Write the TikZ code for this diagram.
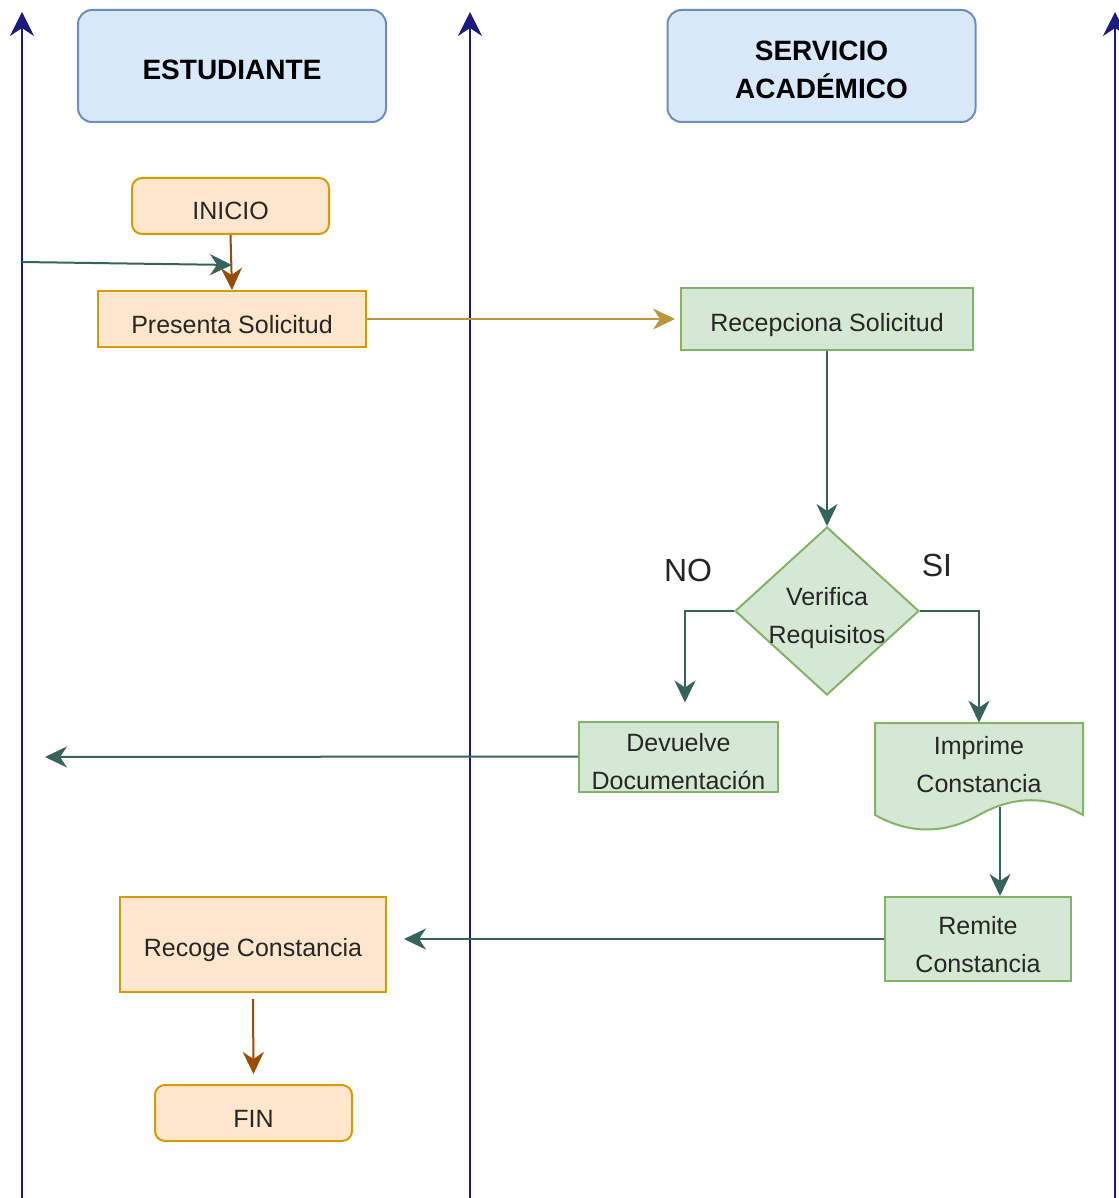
\documentclass[tikz,border=0pt]{standalone}
\usepackage{fontspec}
\setmainfont{Liberation Sans}
\usetikzlibrary{shapes.geometric,arrows.meta,calc}
\usepackage{xcolor}
\definecolor{lanenavy}{HTML}{1A1A80}
\definecolor{headfill}{HTML}{DAE8FC}
\definecolor{headdraw}{HTML}{6C8EBF}
\definecolor{stufill}{HTML}{FFE6CC}
\definecolor{studraw}{HTML}{D79B00}
\definecolor{srvfill}{HTML}{D5E8D4}
\definecolor{srvdraw}{HTML}{82B366}
\definecolor{flowteal}{HTML}{36635A}
\definecolor{flowbrown}{HTML}{994C00}
\definecolor{flowgold}{HTML}{B8973D}
\definecolor{textgray}{HTML}{262626}

% extra height on a first line, to sit text lower in its box
\newcommand{\linestrut}[1][15pt]{\rule{0pt}{#1}}

\tikzset{
  lane/.style={lanenavy, line width=1.1pt, -{Stealth[length=12pt,width=12pt,inset=4pt]}},
  lowered/.style={execute at begin node=\rule{0pt}{15pt},
    execute at end node=\rule[-1pt]{0pt}{1pt}},
  header/.style={lowered, rounded corners=7pt, fill=headfill, draw=headdraw, line width=1pt,
    minimum width=154pt, minimum height=56pt, align=center,
    font=\fontsize{14}{19}\selectfont\bfseries},
  stubox/.style={lowered, fill=stufill, draw=studraw, line width=1pt, align=center,
    font=\fontsize{12.5}{19}\selectfont, text=textgray},
  terminal/.style={stubox, rounded corners=5pt, minimum width=98.5pt, minimum height=28pt},
  srvbox/.style={lowered, fill=srvfill, draw=srvdraw, line width=1pt, align=center,
    font=\fontsize{12.5}{19}\selectfont, text=textgray},
  answer/.style={font=\fontsize{16}{19}\selectfont, text=textgray},
  flow/.style={flowteal, line width=1pt, -{Stealth[length=11pt,width=10.5pt,inset=3.5pt]}},
  flowstu/.style={flow, flowbrown},
  flowgoal/.style={flow, flowgold}
}

\begin{document}
\begin{tikzpicture}[x=0.5pt, y=-0.5pt]

  % Page frame
  \useasboundingbox (0,0) rectangle (1118,1198);
  \fill[white] (0,0) rectangle (1118,1198);

  % Lane lines
  \foreach \x/\name in {22/a, 470/b, 1115/c} {
    \coordinate (lane\name bot) at (\x,1198);
    \coordinate (lane\name top) at (\x,12);
    \draw[lane] (lane\name bot) -- (lane\name top);
  }

  % Lane headers
  \node[header] (est) at (232,66) {ESTUDIANTE};
  \node[header] (srv) at (821.5,66) {\linestrut[14.5pt]SERVICIO\\ACADÉMICO};

  % Student lane
  \node[terminal] (inicio) at (230.5,206) {INICIO};
  \node[stubox, minimum width=134pt, minimum height=28pt] (presenta) at (232,319) {Presenta Solicitud};
  \node[stubox, minimum width=133pt, minimum height=47.5pt] (recoge) at (253,944.5) {Recoge Constancia};
  \node[terminal] (fin) at (253.5,1113) {FIN};

  % Service lane
  \node[srvbox, minimum width=146pt, minimum height=31pt] (recep) at (827,319) {Recepciona Solicitud};
  \node[srvbox, diamond, aspect=1.1, inner sep=-2pt, minimum width=92pt, minimum height=84pt] (verif) at (827,611) {\linestrut[16pt]Verifica\\Requisitos};
  \node[srvbox, inner ysep=0pt, minimum width=99.5pt, minimum height=33.5pt] (devuelve) at (678.5,756.5) {\linestrut Devuelve\\Documentación};

  % Printed document
  \filldraw[fill=srvfill, draw=srvdraw, line width=1pt]
    (875,723) -- (1083,723) -- (1083,815)
    .. controls (1048.3,795.3) and (1013.7,795.3) .. (979,815)
    .. controls (944.3,834.3) and (909.7,834.3) .. (875,815) -- cycle;
  \node[align=center, font=\fontsize{12.5}{19}\selectfont, text=textgray,
    minimum width=104pt, minimum height=42pt] (imprime) at (979,765) {Imprime\\Constancia};

  \node[srvbox, minimum width=93pt, minimum height=42pt] (remite) at (978,939) {\linestrut Remite\\Constancia};

  % Decision answers
  \node[answer] (no) at (688,570) {NO};
  \node[answer] (si) at (937,565) {SI};

  % Connectors
  \coordinate (entry) at (22,262);
  \coordinate (merge) at (232,265);
  \coordinate (devback) at (45,757);
  \coordinate (printout) at ([xshift=10.5pt]imprime.south);

  \draw[flowstu] (inicio.south) -- (presenta.north);
  \draw[flow] (entry) -- (merge);
  \draw[flowgoal, shorten >=2.5pt] (presenta.east) -- (recep.west);
  \draw[flow] (recep.south) -- (verif.north);
  \draw[flow] (verif.west) -| ([xshift=3.25pt, yshift=9pt]devuelve.north);
  \draw[flow] (verif.east) -| (imprime.north);
  \draw[flow] (devuelve.west) -- (devback);
  \draw[flow] (printout) -- (printout |- remite.north);
  \draw[flow, shorten >=8.5pt] (remite.west) -- (remite.west -| recoge.east);
  \draw[flowstu, shorten <=3pt, shorten >=5pt] (recoge.south) -- (fin.north);

\end{tikzpicture}
\end{document}
